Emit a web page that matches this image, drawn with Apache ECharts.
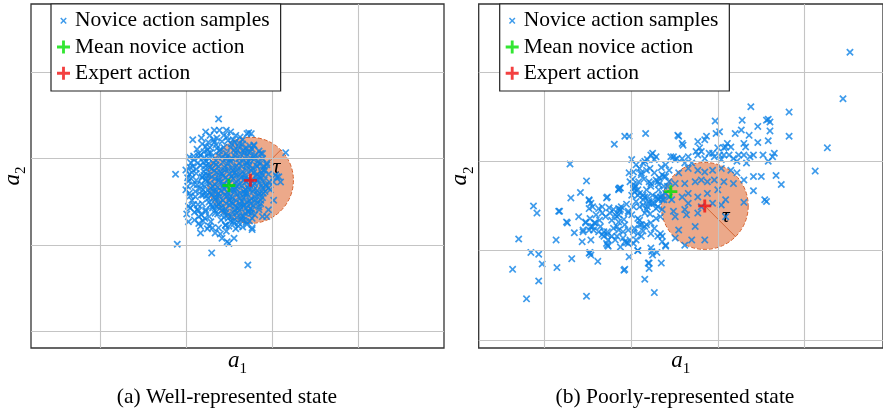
<!DOCTYPE html>
<html lang="en">
<head>
<meta charset="UTF-8">
<script src="https://cdn.jsdelivr.net/npm/echarts@6/dist/echarts.min.js"></script>
<style>
    html, body {margin:0; padding:0; background:#fff}
    #chart {width:883px; height:410px}
</style>
<title>Novice vs expert actions</title>
</head>
<body>
<div id="chart"></div>
<script>
// grid line positions (same unit spacing for both panels)
var gridX = [0, 1, 2, 3];
var gridY = [0, 1, 2, 3];

var legendNames = ['Novice action samples', 'Mean novice action', 'Expert action'];
var captions = ['(a) Well-represented state', '(b) Poorly-represented state'];
var tau = 0.5;

// (a) well-represented state
var leftMean = [1.50, 1.69];
var leftExpert = [1.75, 1.75];
var leftSamples = [
    [1.38,2.46],[1.23,2.31],[1.33,2.33],[1.39,2.33],[1.47,2.33],[1.73,2.30],[1.76,2.29],[1.08,2.22],[1.26,2.19],[2.16,2.07],
    [0.88,1.82],[1.04,1.82],[1.15,2.02],[1.14,1.95],[1.08,1.91],[1.23,2.14],[1.26,2.06],[1.21,2.08],[2.04,1.81],[2.02,1.73],
    [2.08,1.79],[2.10,1.73],[2.02,1.52],[1.96,1.66],[1.79,2.15],[1.89,2.06],[1.94,1.93],[0.90,1.01],[1.30,0.91],[1.72,0.77],
    [1.48,1.04],[1.56,1.08],[1.50,1.02],[1.77,1.18],[1.03,1.45],[1.01,1.36],[1.03,1.27],[1.15,1.25],[1.17,1.14],[1.29,1.27],
    [1.31,1.20],[1.34,1.14],[1.46,1.23],[1.47,1.16],[1.15,1.33],[1.13,1.41],[1.23,1.39],[1.27,1.33],[1.34,1.37],[1.89,1.33],
    [1.85,1.41],
    [1.71,2.29],[1.79,2.16],[1.87,2.06],[1.79,2.02],[1.71,1.95],[1.90,1.87],[1.83,1.75],[1.94,1.68],[1.98,1.64],[1.87,1.52],
    [1.77,1.41],[1.67,1.33],[1.77,1.20],[2.06,1.79],[1.62,2.18],[1.67,2.10],[1.75,2.08],[1.94,1.95],[1.83,1.91],[1.89,1.81],
    [1.79,1.64],[1.90,1.60],[1.69,1.60],[1.75,1.48],[1.63,1.45],[1.96,1.41],[1.94,1.33],
    [1.04,2.02],[1.09,1.99],[1.15,2.06],[1.00,1.87],[1.06,1.77],[1.13,1.70],[1.19,1.79],[1.11,1.62],[1.04,1.60],[1.11,1.56],
    [1.19,1.48],[1.23,1.41],[1.31,1.45],[1.38,1.48],[1.09,2.03],[1.17,2.04],[1.32,2.22],[1.55,2.22],[1.63,2.25],[1.48,2.25],
    [1.02,1.68],[1.06,1.95],[1.12,1.88],[1.03,1.74],[1.09,1.70],[1.16,1.65],[1.07,1.52],[1.14,1.47],[1.10,1.38],[1.18,1.35],
    [1.20,1.28],[1.12,1.83],[1.17,1.92],[1.20,1.58],[1.05,1.43],[1.25,1.19],[1.38,1.20],[1.40,1.13],[1.42,1.08],[1.22,2.01],
    [1.28,2.13],[1.19,2.17],[1.36,2.24],[1.42,2.20],[1.58,2.27],[1.66,2.22],[1.52,2.31],
    [1.02,1.78],[1.07,1.84],[1.00,1.64],[1.05,1.57],[1.09,1.47],[1.12,1.75],[1.15,1.40],[1.18,1.58],[1.10,1.29],[1.17,1.22],
    [1.20,1.96],[1.05,1.90],[1.13,2.11],[1.18,2.24],[1.28,2.27],[1.44,2.27],[1.22,1.31],[1.27,1.22],
    [1.35,2.16],[1.44,2.13],[1.53,2.17],[1.61,2.14],[1.69,2.12],
    [1.29,2.07],[1.39,2.09],[1.47,2.06],[1.56,2.10],[1.64,2.05],[1.72,2.08],[1.81,2.04],
    [1.26,2.01],[1.35,1.98],[1.42,2.02],[1.51,1.99],[1.57,2.03],[1.67,1.98],[1.75,2.01],[1.84,1.97],
    [1.23,1.92],[1.32,1.95],[1.38,1.91],[1.48,1.94],[1.54,1.90],[1.62,1.95],[1.70,1.92],[1.77,1.89],[1.86,1.94],
    [1.21,1.85],[1.30,1.88],[1.36,1.84],[1.45,1.87],[1.51,1.83],[1.60,1.88],[1.66,1.85],[1.76,1.86],[1.83,1.82],[1.92,1.87],
    [1.19,1.78],[1.27,1.81],[1.34,1.77],[1.43,1.80],[1.49,1.76],[1.58,1.81],[1.64,1.78],[1.72,1.76],[1.81,1.80],[1.87,1.77],
    [1.18,1.71],[1.25,1.74],[1.34,1.70],[1.40,1.73],[1.47,1.69],[1.57,1.72],[1.62,1.70],[1.70,1.73],[1.78,1.69],[1.85,1.72],[1.93,1.70],
    [1.20,1.64],[1.29,1.66],[1.35,1.62],[1.45,1.65],[1.52,1.63],[1.58,1.66],[1.67,1.62],[1.73,1.65],[1.83,1.63],[1.89,1.66],
    [1.24,1.57],[1.30,1.59],[1.39,1.56],[1.45,1.58],[1.54,1.55],[1.60,1.59],[1.70,1.57],[1.76,1.54],[1.84,1.58],
    [1.27,1.50],[1.34,1.53],[1.40,1.49],[1.50,1.52],[1.55,1.48],[1.65,1.51],[1.71,1.49],[1.81,1.52],[1.87,1.48],
    [1.31,1.43],[1.36,1.45],[1.46,1.42],[1.51,1.46],[1.61,1.43],[1.67,1.45],[1.75,1.42],[1.85,1.44],
    [1.37,1.36],[1.44,1.38],[1.49,1.35],[1.59,1.37],[1.65,1.34],[1.73,1.38],[1.80,1.35],
    [1.41,1.29],[1.49,1.31],[1.55,1.28],[1.64,1.30],[1.70,1.27],[1.77,1.31],
    [1.46,1.23],[1.56,1.25],[1.61,1.22],[1.71,1.24],
    [1.40,2.11],[1.58,2.07],[1.31,2.03],[1.46,2.00],[1.62,2.00],[1.28,1.90],[1.43,1.96],[1.59,1.92],[1.73,1.97],[1.25,1.81],
    [1.40,1.85],[1.55,1.86],[1.69,1.81],[1.23,1.75],[1.38,1.78],[1.53,1.79],[1.68,1.76],[1.31,1.68],[1.44,1.71],[1.59,1.68],
    [1.74,1.70],[1.27,1.61],[1.41,1.63],[1.56,1.61],[1.71,1.60],[1.33,1.55],[1.48,1.57],[1.63,1.54],[1.38,1.47],[1.53,1.50],
    [1.68,1.47],[1.42,1.40],[1.57,1.41],[1.72,1.39],[1.53,1.33],[1.61,1.26],
    [1.33,2.19],[1.49,2.21],[1.57,2.19],[1.66,2.17],[1.74,2.15],
    [1.25,2.10],[1.36,2.12],[1.52,2.13],[1.60,2.10],[1.68,2.07],[1.77,2.11],[1.85,2.09],
    [1.24,1.97],[1.38,2.04],[1.48,2.03],[1.54,2.00],[1.70,2.03],[1.79,1.99],[1.89,2.00],
    [1.26,1.94],[1.35,1.93],[1.45,1.90],[1.52,1.96],[1.65,1.91],[1.74,1.93],[1.82,1.92],[1.91,1.91],
    [1.23,1.88],[1.33,1.86],[1.42,1.83],[1.49,1.88],[1.57,1.84],[1.63,1.82],[1.71,1.87],[1.79,1.84],[1.88,1.84],[1.96,1.82],
    [1.21,1.81],[1.30,1.79],[1.38,1.75],[1.46,1.78],[1.55,1.77],[1.61,1.75],[1.69,1.78],[1.77,1.74],[1.85,1.79],[1.91,1.75],
    [1.22,1.68],[1.28,1.72],[1.37,1.67],[1.43,1.68],[1.50,1.71],[1.54,1.67],[1.65,1.69],[1.72,1.67],[1.80,1.71],[1.88,1.69],[1.97,1.73],
    [1.23,1.61],[1.32,1.63],[1.38,1.60],[1.48,1.61],[1.56,1.64],[1.63,1.60],[1.69,1.64],[1.78,1.62],[1.86,1.60],[1.92,1.62],
    [1.26,1.54],[1.36,1.55],[1.43,1.52],[1.51,1.55],[1.58,1.52],[1.67,1.55],[1.74,1.51],[1.80,1.56],[1.89,1.55],
    [1.29,1.47],[1.41,1.44],[1.47,1.48],[1.57,1.45],[1.63,1.48],[1.70,1.43],[1.78,1.46],[1.83,1.49],
    [1.34,1.40],[1.47,1.38],[1.55,1.38],[1.62,1.40],[1.69,1.37],[1.76,1.37],
    [1.44,1.32],[1.52,1.28],[1.59,1.32],[1.67,1.29],[1.74,1.28],
    [1.50,1.22],[1.58,1.19],[1.66,1.21]
];

// (b) poorly-represented state
var rightMean = [1.46, 1.66];
var rightExpert = [1.85, 1.50];
var rightSamples = [
    [3.52,3.22],[3.44,2.70],[3.26,2.15],[3.12,1.89],[2.82,2.55],[2.82,2.28],[2.73,1.74],[2.67,1.84],[2.38,2.61],[1.97,2.45],
    [2.28,2.46],[2.58,2.47],[2.60,2.44],[2.56,2.46],[2.46,2.39],[2.60,2.34],[2.27,2.35],[2.20,2.31],[2.36,2.29],[2.46,2.21],
    [2.58,2.23],[2.65,2.09],[2.63,2.05],[2.58,2.00],[2.41,2.07],[2.37,2.05],[2.33,1.98],[2.32,2.16],[2.30,2.20],[2.50,1.83],
    [2.41,1.83],[2.41,1.67],[2.54,1.57],[2.56,1.55],[2.30,1.54],[2.22,2.00],[2.18,2.03],[2.24,2.07],[2.11,2.20],[2.09,2.16],
    [2.15,2.16],[2.07,2.15],[2.02,2.33],[1.98,2.31],[1.87,2.28],[1.85,2.24],[1.77,2.22],[1.79,2.15],[1.81,2.11],[1.75,2.11],
    [1.59,2.20],[1.60,2.18],[1.55,2.28],[1.46,2.05],[1.49,2.05],[1.53,2.03],[1.59,2.03],[1.66,2.05],[1.70,1.98],[1.62,1.98],
    [1.90,2.09],[1.94,2.09],[2.00,2.15],[2.02,2.07],[2.07,2.07],[2.13,2.07],[2.04,2.02],
    [1.17,2.31],[0.93,2.28],[0.98,2.28],[0.81,2.19],[0.30,1.97],[0.49,1.78],[0.42,1.65],[0.31,1.59],[-0.12,1.50],[-0.08,1.42],
    [-0.29,1.13],[-0.36,0.79],[-0.20,0.46],[-0.15,0.98],[-0.06,0.96],[-0.02,0.85],[-0.06,0.66],[0.14,1.12],[0.15,0.81],[0.17,1.44],
    [0.26,1.32],[0.27,1.31],[0.35,1.20],[0.32,0.91],[0.49,0.49],[0.52,1.57],[0.54,1.53],[0.45,1.23],[0.52,1.23],[0.48,1.32],
    [0.53,1.36],[0.58,1.31],[0.54,1.27],[0.63,1.47],[0.67,1.42],[0.71,1.38],[0.72,1.59],[0.65,1.27],[0.69,1.21],[0.73,1.18],
    [0.69,1.16],[0.76,1.42],[0.80,1.46],[0.84,1.38],[0.86,1.47],[0.78,1.34],[0.86,1.32],[0.54,1.12],[0.52,0.97],[0.54,0.95],
    [0.62,0.88],[0.74,1.05],[0.84,1.16],[0.86,1.23],[0.80,1.25],[0.91,1.14],[0.95,1.09],[0.99,1.12],[1.03,1.08],[0.97,1.23],
    [1.03,1.21],[0.91,1.21],[0.93,0.79],[0.98,0.93],[1.08,1.00],[1.16,0.68],[1.20,0.86],[1.21,0.80],[1.27,0.53],[1.24,0.99],
    [1.25,0.95],[1.35,0.86],[1.40,1.05],[1.36,1.10],[1.34,1.19],[1.36,1.16],[1.27,1.25],[1.29,1.36],[1.23,1.31],[1.10,1.34],
    [1.16,1.27],[1.12,1.29],[1.16,1.42],[1.10,1.49],[1.14,1.57],[1.21,1.53],[1.01,1.40],[1.03,1.49],[1.06,1.55],[0.97,1.44],
    [0.87,1.44],[0.89,1.49],[0.87,1.70],[0.86,1.68],[0.98,1.87],[0.99,1.77],[1.03,1.74],[1.04,1.70],[1.06,1.72],[1.12,1.87],
    [1.10,1.92],[1.06,1.96],[1.01,2.02],[1.18,1.90],[1.16,2.00],[1.23,2.07],[1.25,2.09],[1.27,2.02],[1.29,2.05],[1.27,1.87],
    [1.29,1.79],[1.32,1.74],[1.31,1.77],[1.21,1.77],[1.23,1.72],[1.18,1.68],[1.10,1.64],[1.14,1.62],[1.16,1.60],[1.29,1.60],
    [1.32,1.57],[1.31,1.49],[1.36,1.46],[1.36,1.57],[1.40,1.64],[1.44,1.60],[1.34,1.38],[1.40,1.83],[1.44,1.77],[1.38,1.72],
    [1.42,1.72],
    [1.51,2.02],[1.77,2.07],[1.85,2.03],[1.96,2.05],[2.30,2.07],[2.52,2.07],[1.36,1.85],[1.44,1.90],[1.55,1.87],[1.66,1.92],
    [1.77,1.90],[1.85,1.88],[1.94,1.90],[2.04,1.92],[2.15,1.90],[2.22,1.87],[1.51,1.75],[1.62,1.75],[1.74,1.77],[1.81,1.79],
    [1.88,1.77],[1.96,1.79],[2.07,1.77],[2.18,1.75],[2.30,1.79],[1.34,1.60],[1.47,1.57],[1.59,1.60],[1.66,1.64],[1.77,1.60],
    [1.88,1.64],[2.00,1.68],[1.49,1.44],[1.62,1.46],[1.66,1.53],[1.81,1.49],[1.94,1.53],[2.04,1.51],[2.09,1.57],[1.51,1.38],
    [1.64,1.40],[1.77,1.42],[1.55,1.23],[1.74,1.27],[2.09,1.38],[1.51,1.14],[1.70,1.12],[1.85,1.12],[1.62,1.06],
    [1.54,2.29],[1.19,2.02],[1.14,1.98],[1.03,1.88],[1.12,1.85],[1.38,1.83],[1.23,1.75],[1.03,1.70],[1.08,1.68],[1.04,1.66],
    [1.01,1.62],[1.08,1.62],[0.73,1.60],[0.86,1.69],[0.88,1.70],[0.52,1.56],[1.32,1.68],[1.36,1.62],[1.31,1.59],[1.38,1.57],
    [0.18,1.44],[0.52,1.47],[0.56,1.49],[0.67,1.49],[0.82,1.40],[0.88,1.46],[0.86,1.40],[0.48,1.31],[0.56,1.27],[0.45,1.21],
    [0.59,1.31],[0.67,1.18],[0.73,1.21],[0.74,1.12],[0.78,1.16],[0.84,1.27],[0.82,1.12],[0.93,1.10],[0.97,1.08],[0.73,1.06],
    [0.97,1.42],[1.08,1.36],[1.10,1.29],[1.04,1.25],[1.18,1.29],[1.23,1.19],[1.08,1.19],[1.12,1.16],[1.06,1.12],[1.19,1.49],
    [1.27,1.53],[1.31,1.16],[1.40,1.06],[1.08,1.00],[1.23,1.03],[1.21,0.86],[0.92,0.78],[0.53,0.98],[0.57,1.23],[0.63,1.21],
    [0.72,1.08],[1.19,1.60],[1.21,1.55],[1.14,1.51],[1.18,1.46],[1.25,1.53],[1.29,1.47],
    [0.60,1.40],[0.64,1.34],[0.75,1.48],[0.92,1.35],[0.95,1.52],[1.02,1.80],[1.09,1.77],[1.15,1.80],[1.22,1.92],[1.25,1.62],
    [1.33,1.81],[1.35,1.93],[1.40,1.96],[1.22,1.41],[1.14,1.22],[0.93,1.29],[0.44,1.10],[0.40,1.38],[0.88,1.04],[1.30,0.98]
];

var serif = '"Liberation Serif", "Times New Roman", serif';
var blue = '#0e82e6';
// filled outlines so the stroke weight does not depend on symbol scaling
var crossIcon = 'path://M0,1.6L1.6,0L5,3.4L8.4,0L10,1.6L6.6,5L10,8.4L8.4,10L5,6.6L1.6,10L0,8.4L3.4,5Z';
var crossIconLegend = 'path://M-5,-5M0,1.6L1.6,0L5,3.4L8.4,0L10,1.6L6.6,5L10,8.4L8.4,10L5,6.6L1.6,10L0,8.4L3.4,5ZM15,15';
var plusIcon = 'path://M3.9,0H6.1V3.9H10V6.1H6.1V10H3.9V6.1H0V3.9H3.9Z';

var panels = [
    {left: 30, width: 414, xmin: -0.8, xmax: 4, ymin: -0.19, ymax: 3.79, samples: leftSamples,
     mean: leftMean, expert: leftExpert, angle: 45, tauDx: 26, tauDy: -13, legendLeft: 51},
    {left: 478.7, width: 414.5, xmin: -0.75, xmax: 3.9, ymin: -0.09, ymax: 3.76, samples: rightSamples,
     mean: rightMean, expert: rightExpert, angle: -45, tauDx: 21, tauDy: 10, legendLeft: 499.7}
];

function axisName(n) {
    return '{g| }{a|a}{s|' + n + '}';
}
var nameRich = {
    g: {width: 0, lineHeight: 28},
    a: {fontFamily: serif, fontStyle: 'italic', fontSize: 23, lineHeight: 24, verticalAlign: 'top', color: '#000'},
    s: {fontFamily: serif, fontSize: 15, lineHeight: 16, verticalAlign: 'bottom', color: '#000'}
};

var grids = [], xAxes = [], yAxes = [], series = [], legends = [], graphics = [];

panels.forEach(function (p, i) {
    grids.push({left: p.left, top: 4, width: p.width, height: 344, show: true,
        borderColor: '#333', borderWidth: 1.3, backgroundColor: '#fff'});
    xAxes.push({gridIndex: i, type: 'value', min: p.xmin, max: p.xmax,
        axisLine: {show: false}, axisTick: {show: false}, axisLabel: {show: false}, splitLine: {show: false},
        name: axisName('1'), nameLocation: 'middle', nameGap: 1,
        nameTextStyle: {rich: nameRich}});
    yAxes.push({gridIndex: i, type: 'value', min: p.ymin, max: p.ymax,
        axisLine: {show: false}, axisTick: {show: false}, axisLabel: {show: false}, splitLine: {show: false},
        name: axisName('2'), nameLocation: 'middle', nameRotate: 90, nameGap: 2,
        nameTextStyle: {rich: nameRich}});

    // grid lines
    series.push({type: 'scatter', xAxisIndex: i, yAxisIndex: i, data: [], z: 0, silent: true,
        markLine: {silent: true, symbol: 'none', label: {show: false},
            lineStyle: {color: '#c4c4c4', width: 1.1, type: 'solid'},
            data: gridX.map(function (v) { return {xAxis: v}; })
                .concat(gridY.map(function (v) { return {yAxis: v}; }))}});

    // tolerance circle around the expert action
    series.push({type: 'custom', xAxisIndex: i, yAxisIndex: i, z: 1, silent: true,
        data: [[p.expert[0], p.expert[1], tau]],
        renderItem: function (params, api) {
            var c = api.coord([api.value(0), api.value(1)]);
            var r = api.size([api.value(2), 0])[0];
            var a = p.angle * Math.PI / 180;
            return {type: 'group', children: [
                {type: 'circle', shape: {cx: c[0], cy: c[1], r: r},
                 style: {fill: '#eca98a', stroke: '#d8602a', lineWidth: 1, lineDash: [4, 2]}},
                {type: 'line', shape: {x1: c[0], y1: c[1], x2: c[0] + r * Math.cos(a), y2: c[1] - r * Math.sin(a)},
                 style: {stroke: '#c9541f', lineWidth: 0.8}},
                {type: 'text', x: c[0] + p.tauDx, y: c[1] + p.tauDy,
                 style: {text: 'τ', fill: '#000', fontFamily: serif, fontStyle: 'italic', fontSize: 22,
                         align: 'center', verticalAlign: 'middle', textAlign: 'center', textVerticalAlign: 'middle'}}
            ]};
        }});

    series.push({name: legendNames[0], type: 'scatter', xAxisIndex: i, yAxisIndex: i, z: 2,
        data: p.samples, symbol: crossIcon, symbolSize: 7.5,
        itemStyle: {color: blue}});
    series.push({name: legendNames[1], type: 'scatter', xAxisIndex: i, yAxisIndex: i, z: 3,
        data: [p.mean], symbol: plusIcon, symbolSize: 13,
        itemStyle: {color: '#00e000'}});
    series.push({name: legendNames[2], type: 'scatter', xAxisIndex: i, yAxisIndex: i, z: 3,
        data: [p.expert], symbol: plusIcon, symbolSize: 13,
        itemStyle: {color: '#f01010'}});

    legends.push({orient: 'vertical', left: p.legendLeft, top: 4, z: 10, selectedMode: false,
        padding: [5.7, 11, 6.7, 6], itemGap: 4.3, itemWidth: 13, itemHeight: 13,
        backgroundColor: '#fff', borderColor: '#222', borderWidth: 1.2,
        textStyle: {fontFamily: serif, fontSize: 21.5, lineHeight: 22, color: '#000'},
        data: [{name: legendNames[0], icon: crossIconLegend},
               {name: legendNames[1], icon: plusIcon},
               {name: legendNames[2], icon: plusIcon}]});
});

graphics.push({type: 'text', x: 227, y: 397,
    style: {text: captions[0], fill: '#000', fontFamily: serif, fontSize: 21.5,
            align: 'center', verticalAlign: 'middle', textAlign: 'center', textVerticalAlign: 'middle'}});
graphics.push({type: 'text', x: 675, y: 397,
    style: {text: captions[1], fill: '#000', fontFamily: serif, fontSize: 21.5,
            align: 'center', verticalAlign: 'middle', textAlign: 'center', textVerticalAlign: 'middle'}});

var ec = echarts.init(document.getElementById('chart'), null, {renderer: 'canvas'});
ec.setOption({
    animation: false,
    backgroundColor: '#fff',
    grid: grids,
    xAxis: xAxes,
    yAxis: yAxes,
    legend: legends,
    series: series,
    graphic: graphics
});
</script>
</body>
</html>
